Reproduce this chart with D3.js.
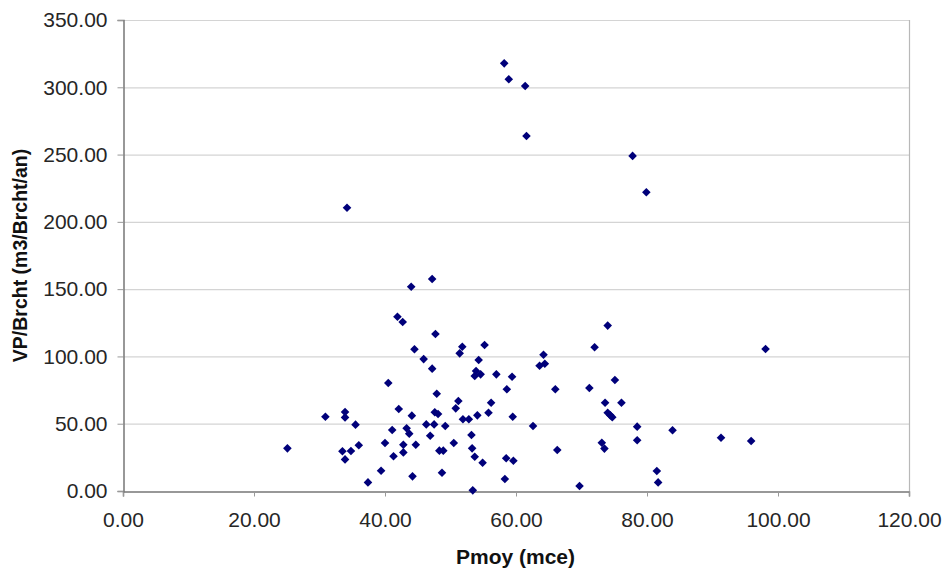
<!DOCTYPE html>
<html>
<head>
<meta charset="utf-8">
<script src="https://cdn.jsdelivr.net/npm/d3@7"></script>
<style>
  html, body { margin: 0; padding: 0; background: #fff; }
  svg { display: block; font-family: "Liberation Sans", Arial, sans-serif; }
</style>
</head>
<body>
<svg id="chart" width="943" height="570"></svg>
<script>
// Pmoy (mce)
const pmoy = [58.2, 58.9, 61.4, 61.6, 77.8, 79.9, 34.2, 44.0, 47.2, 41.9,
  42.7, 47.7, 44.5, 51.8, 51.4, 55.2, 45.9, 54.3, 64.2, 63.6,
  64.4, 47.2, 40.5, 47.9, 42.1, 44.1, 47.6, 48.1, 30.9, 33.9,
  33.9, 35.5, 46.3, 47.5, 49.2, 41.1, 43.3, 43.7, 46.9, 25.1,
  33.5, 34.8, 33.9, 36.0, 40.0, 42.8, 44.7, 42.8, 41.3, 48.3,
  48.9, 39.4, 44.2, 48.7, 37.4, 53.9, 54.6, 53.7, 57.0, 59.4,
  58.6, 66.0, 72.0, 74.0, 75.1, 71.2, 73.6, 74.0, 74.4, 74.7,
  73.1, 73.5, 51.2, 50.8, 56.2, 55.8, 51.9, 52.8, 54.1, 59.5,
  62.6, 53.2, 50.5, 53.3, 53.7, 54.9, 58.5, 59.6, 66.3, 58.3,
  53.4, 69.7, 98.1, 76.1, 78.5, 83.9, 78.5, 91.3, 95.9, 81.5,
  81.7];
// VP/Brcht (m3/Brcht/an)
const vpBrcht = [317.8, 306.0, 301.0, 263.8, 249.0, 222.0, 210.5, 151.8, 157.5, 129.5,
  125.6, 116.7, 105.3, 107.2, 102.3, 108.5, 98.0, 97.3, 101.3, 93.1,
  94.6, 90.9, 80.3, 72.3, 60.9, 56.0, 58.5, 57.2, 55.2, 58.7,
  54.7, 49.3, 49.5, 49.5, 48.3, 45.3, 46.6, 42.6, 41.1, 31.7,
  29.5, 29.7, 23.5, 34.0, 35.7, 34.4, 34.4, 28.7, 25.8, 30.0,
  30.0, 15.1, 10.9, 13.6, 6.4, 89.2, 86.7, 85.5, 86.7, 84.9,
  75.6, 75.6, 106.8, 122.9, 82.5, 76.5, 65.6, 58.2, 56.2, 54.8,
  35.9, 31.5, 66.9, 61.4, 65.6, 58.2, 53.3, 53.3, 56.2, 55.2,
  48.3, 41.6, 35.7, 31.7, 25.5, 21.0, 24.3, 22.5, 30.5, 8.9,
  0.5, 3.7, 105.5, 65.6, 47.8, 45.1, 37.7, 39.6, 37.2, 14.9,
  6.4];
const xTicks = [0, 20, 40, 60, 80, 100, 120];
const yTicks = [0, 50, 100, 150, 200, 250, 300, 350];
const xTitle = "Pmoy (mce)";
const yTitle = "VP/Brcht (m3/Brcht/an)";

(function () {
  const svg = d3.select("#chart");
  const pLeft = 123, pRight = 909, pTop = 20, pBottom = 491;

  const x = d3.scaleLinear().domain([0, 120]).range([pLeft, pRight]);
  const y = d3.scaleLinear().domain([0, 350]).range([pBottom, pTop]);

  // gridlines
  svg.append("g")
    .selectAll("line")
    .data(yTicks.filter(d => d > 0))
    .join("line")
    .attr("x1", pLeft).attr("x2", pRight)
    .attr("y1", d => y(d) + 0.5).attr("y2", d => y(d) + 0.5)
    .attr("stroke", "#d4d4d4").attr("stroke-width", 1.2);

  // right border
  svg.append("line")
    .attr("x1", pRight + 0.5).attr("x2", pRight + 0.5)
    .attr("y1", pTop).attr("y2", pBottom)
    .attr("stroke", "#b8b8b8").attr("stroke-width", 1.2);

  // x axis
  const xAxis = svg.append("g")
    .attr("transform", `translate(0,${pBottom + 0.5})`)
    .call(d3.axisBottom(x).tickValues(xTicks).tickFormat(d3.format(".2f")).tickSizeOuter(0).tickSize(5).tickPadding(16));
  xAxis.select(".domain").attr("stroke", "#777").attr("stroke-width", 1.5);
  xAxis.selectAll(".tick line").attr("stroke", "#999");
  xAxis.selectAll("text").attr("font-size", 21).attr("fill", "#262626")
    .attr("font-family", "Liberation Sans, Arial, sans-serif");

  // y axis
  const yAxis = svg.append("g")
    .attr("transform", `translate(${pLeft + 0.5},0)`)
    .call(d3.axisLeft(y).tickValues(yTicks).tickFormat(d3.format(".2f")).tickSizeOuter(0).tickSize(6).tickPadding(10));
  yAxis.select(".domain").attr("stroke", "#777").attr("stroke-width", 1.5);
  yAxis.selectAll(".tick line").attr("stroke", "#999");
  yAxis.selectAll("text").attr("font-size", 21).attr("fill", "#262626")
    .attr("font-family", "Liberation Sans, Arial, sans-serif");

  // titles
  svg.append("text")
    .attr("x", (pLeft + pRight) / 2 - 0.5).attr("y", 564)
    .attr("text-anchor", "middle")
    .attr("font-size", 21).attr("font-weight", "bold").attr("fill", "#111")
    .text(xTitle);

  svg.append("text")
    .attr("transform", `translate(27,${(pTop + pBottom) / 2}) rotate(-90)`)
    .attr("text-anchor", "middle")
    .attr("font-size", 19.5).attr("font-weight", "bold").attr("fill", "#111")
    .text(yTitle);

  // points (diamonds)
  const r = 4.3;
  const diamond = `M0,${-r}L${r},0L0,${r}L${-r},0Z`;
  svg.append("g")
    .selectAll("path")
    .data(d3.zip(pmoy, vpBrcht))
    .join("path")
    .attr("d", diamond)
    .attr("transform", d => `translate(${x(d[0])},${y(d[1])})`)
    .attr("fill", "#00007a");
})();
</script>
</body>
</html>
